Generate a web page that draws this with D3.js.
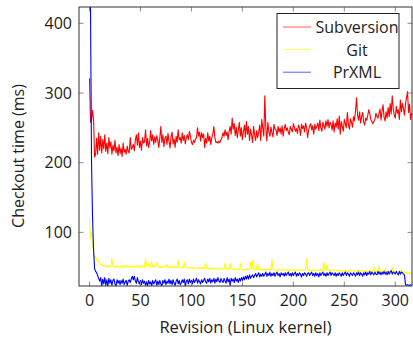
<!DOCTYPE html>
<html><head><meta charset="utf-8">
<script src="https://cdn.jsdelivr.net/npm/d3@7"></script>
<style>body{margin:0;background:#fff;} text{font-family:"Open Sans",sans-serif;}</style>
</head><body>
<svg id="c" width="413" height="338"></svg>
<script>
const seriesNames = ["Subversion", "Git", "PrXML"];
const seriesColors = ["#ff0000", "#ffff00", "#0000ff"];
const xTicks = [0, 50, 100, 150, 200, 250, 300];
const yTicks = [100, 200, 300, 400];

const subversion = [
321,258,262,275,262,208,212,235,212,243,
218,238,214,233,220,240,216,228,213,236,
221,230,212,225,217,232,214,222,210,226,
213,221,209,228,215,219,212,224,216,214,
236,219,222,226,217,233,240,225,243,222,
231,218,236,228,230,247,224,235,222,229,
246,231,240,226,237,229,239,232,222,236,
252,229,240,223,235,238,226,242,231,221,
237,244,227,234,222,238,229,247,233,236,
228,243,232,239,227,236,240,233,245,238,
229,226,232,229,234,236,250,238,244,231,
243,236,241,222,235,228,243,231,238,226,
236,241,252,236,229,230,228,231,229,233,
236,243,238,247,239,244,233,245,252,241,
264,248,256,239,251,236,247,258,238,250,
233,244,254,237,259,241,252,232,248,240,
229,252,240,232,246,236,244,254,232,262,
250,238,296,249,231,258,244,238,251,243,
237,255,248,247,239,252,244,250,241,253,
238,249,255,246,250,244,240,252,248,244,
256,251,245,249,242,254,250,239,255,249,
253,244,257,250,236,247,252,256,247,253,
241,255,248,252,257,246,261,250,245,258,
253,248,260,252,262,250,258,255,247,260,
244,257,251,263,248,267,241,259,252,245,
262,256,250,272,255,248,263,258,251,266,
260,275,293,268,261,273,257,266,272,258,
254,264,261,268,276,270,262,259,256,259,
262,271,266,264,270,277,261,274,283,265,
260,273,264,279,266,285,270,296,278,268,
264,281,271,276,262,290,273,285,278,268,
284,293,302,272,284,262,271
];
const git = [
122,92,100,80,74,62,66,60,61,57,
55,54,52,53,51,52,51,52,50,51,
52,51,62,52,51,50,51,52,50,51,
51,50,52,51,50,51,53,51,50,52,
51,50,51,52,51,50,51,53,51,50,
51,50,52,51,50,62,53,51,55,50,
51,58,51,50,52,51,57,51,50,51,
50,51,50,52,51,50,54,51,50,49,
50,51,49,50,51,50,49,60,50,49,
50,51,49,57,50,49,50,49,48,50,
49,48,50,49,48,49,50,48,49,48,
49,48,50,49,56,48,49,48,49,48,
47,48,49,48,47,48,49,48,47,48,
47,48,47,56,48,47,48,47,55,48,
47,48,47,46,47,48,47,46,55,47,
46,47,46,47,48,46,47,46,57,47,
60,47,46,52,47,55,46,47,46,47,
46,47,46,47,46,47,46,47,46,61,
48,46,47,46,45,46,47,46,45,46,
47,46,45,46,47,46,45,46,47,46,
45,46,47,45,46,45,47,46,45,46,
45,46,47,62,48,45,46,45,46,47,
45,46,45,46,45,46,45,47,46,45,
57,46,45,52,46,45,46,45,46,45,
46,45,44,45,46,45,44,45,44,45,
44,45,44,45,44,45,46,44,45,44,
45,44,45,44,45,44,45,44,45,44,
44,45,44,43,44,45,44,43,44,50,
44,45,43,44,52,43,44,45,43,44,
48,44,43,44,45,43,44,50,43,44,
43,44,43,44,42,45,43,42,43,42,
42,43,41,42,40,41,40
];
const prxml = [
700,420,200,120,75,48,44,42,38,34,
30,35,23,33,26,35,24,32,23,34,
27,32,24,31,33,26,23,32,27,31,
25,31,27,33,25,29,31,24,30,32,
28,33,37,32,37,30,27,35,29,26,
31,25,32,27,30,24,29,23,31,26,
29,23,31,26,29,32,24,30,25,31,
26,23,31,27,32,25,30,27,33,26,
31,25,32,27,24,30,33,26,31,25,
27,32,28,33,23,30,32,26,33,28,
31,26,33,28,31,34,27,32,29,26,
32,28,31,34,29,27,33,29,34,27,
32,29,34,27,33,29,35,30,28,34,
30,28,34,30,27,35,29,33,24,34,
30,33,28,35,30,33,28,34,30,35,
31,36,32,37,33,38,33,39,34,37,
39,35,38,41,36,39,42,36,40,37,
41,37,40,43,37,41,38,43,37,41,
38,42,37,41,43,38,41,36,42,39,
41,37,42,38,41,43,38,41,37,42,
38,41,43,37,41,38,42,40,36,41,
38,42,40,37,41,42,38,41,43,38,
41,37,42,38,41,36,42,38,41,43,
38,41,37,42,38,41,43,38,42,40,
38,42,37,41,38,42,40,37,42,38,
41,43,38,42,40,37,42,40,38,42,
40,37,42,39,43,38,42,40,37,42,
39,43,38,42,40,44,39,43,41,39,
43,40,39,44,40,43,39,43,40,44,
40,43,39,44,40,43,45,40,43,42,
40,44,41,39,44,40,43,42,40,39,
25,24,25,24,24,25,24
];
const allSeries = [subversion, git, prxml];

const L = 79, R = 412, T = 7, B = 286;
const x = d3.scaleLinear().domain([-10.3, 316.4]).range([L, R]);
const y = d3.scaleLinear().domain([23, 423.4]).range([B, T]);

const svg = d3.select("#c");
svg.append("defs").append("clipPath").attr("id", "clip")
  .append("rect").attr("x", L).attr("y", T).attr("width", R - L).attr("height", B - T);

const line = d3.line().x((d, i) => x(i)).y(d => y(d));
const g = svg.append("g").attr("clip-path", "url(#clip)");
allSeries.forEach((s, k) => {
  g.append("path").datum(s).attr("d", line)
    .attr("fill", "none").attr("stroke", seriesColors[k])
    .attr("stroke-width", 1.1).attr("stroke-linejoin", "round");
});

// ticks (inside, on all sides)
const tickLen = 4.5, tickCol = "#8a8a8a";
const ax = svg.append("g");
xTicks.forEach(t => {
  ax.append("line").attr("x1", x(t)).attr("x2", x(t)).attr("y1", B).attr("y2", B - tickLen).attr("stroke", tickCol);
  ax.append("line").attr("x1", x(t)).attr("x2", x(t)).attr("y1", T).attr("y2", T + tickLen).attr("stroke", tickCol);
  ax.append("text").attr("x", x(t)).attr("y", 306).attr("text-anchor", "middle")
    .attr("font-size", 16).attr("fill", "#222").text(t);
});
yTicks.forEach(t => {
  ax.append("line").attr("x1", L).attr("x2", L + tickLen).attr("y1", y(t)).attr("y2", y(t)).attr("stroke", tickCol);
  ax.append("line").attr("x1", R).attr("x2", R - tickLen).attr("y1", y(t)).attr("y2", y(t)).attr("stroke", tickCol);
  ax.append("text").attr("x", 72).attr("y", y(t)).attr("dy", "0.36em").attr("text-anchor", "end")
    .attr("font-size", 16).attr("fill", "#222").text(t);
});
svg.append("rect").attr("x", L).attr("y", T).attr("width", R - L).attr("height", B - T)
  .attr("fill", "none").attr("stroke", "#333").attr("stroke-width", 1);

svg.append("text").attr("x", (L + R) / 2).attr("y", 333).attr("text-anchor", "middle")
  .attr("font-size", 16.5).attr("fill", "#222").text("Revision (Linux kernel)");
svg.append("text").attr("transform", "translate(24,156) rotate(-90)").attr("text-anchor", "middle")
  .attr("font-size", 16).attr("fill", "#222").text("Checkout time (ms)");

// legend
const lg = svg.append("g");
lg.append("rect").attr("x", 277).attr("y", 13.5).attr("width", 122).attr("height", 75)
  .attr("fill", "#fff").attr("stroke", "#222").attr("stroke-width", 1);
seriesNames.forEach((n, k) => {
  const by = 33 + k * 22.6;
  lg.append("line").attr("x1", 283).attr("x2", 311).attr("y1", by - 6).attr("y2", by - 6)
    .attr("stroke", seriesColors[k]).attr("stroke-width", 1).attr("stroke-opacity", 0.65);
  lg.append("text").attr("x", 357).attr("y", by).attr("text-anchor", "middle")
    .attr("font-size", 16).attr("fill", "#222").text(n);
});
</script>
</body></html>
